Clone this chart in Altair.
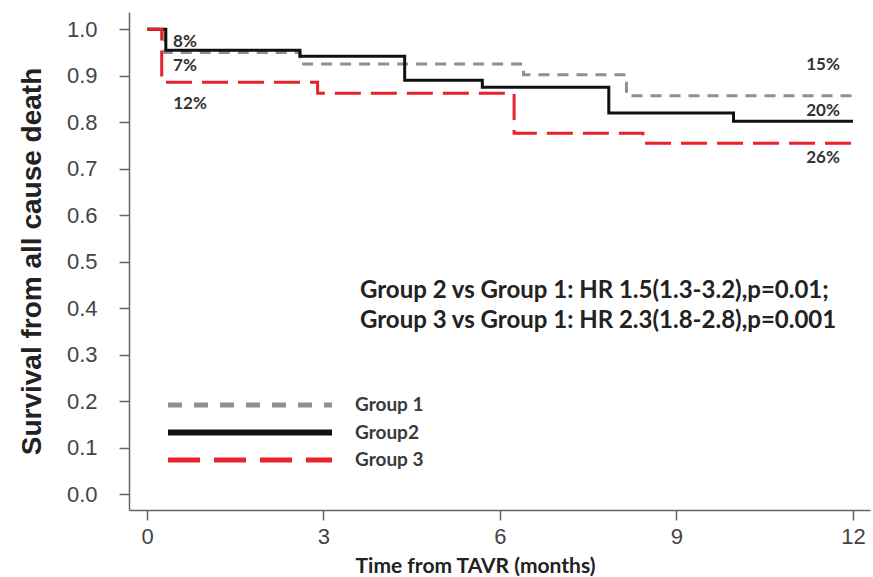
import altair as alt
import pandas as pd

# Kaplan-Meier step values (time in months, survival proportion)
groups = ["Group 1", "Group2", "Group 3"]

g1_time = [0, 0.30, 2.60, 6.40, 8.15, 12]
g1_surv = [1.000, 0.950, 0.925, 0.902, 0.857, 0.857]

g2_time = [0, 0.32, 2.60, 4.38, 5.70, 7.85, 9.97, 12]
g2_surv = [1.000, 0.955, 0.942, 0.890, 0.875, 0.820, 0.802, 0.802]

g3_time = [0, 0.25, 2.90, 6.24, 8.43, 12]
g3_surv = [1.000, 0.886, 0.862, 0.776, 0.755, 0.755]

x_ticks = [0, 3, 6, 9, 12]
y_ticks = [0.0, 0.1, 0.2, 0.3, 0.4, 0.5, 0.6, 0.7, 0.8, 0.9, 1.0]

hr_lines = [
    "Group 2 vs Group 1: HR 1.5(1.3-3.2),p=0.01;",
    "Group 3 vs Group 1: HR 2.3(1.8-2.8),p=0.001",
]

colors = ["#8f8f8f", "#111111", "#e8222b"]
dashes = [[11, 8], [1, 0], [26, 10]]
legend_dashes = [[14, 12], [1, 0], [32, 14]]

rows = []
for name, ts, ss in zip(groups, [g1_time, g2_time, g3_time], [g1_surv, g2_surv, g3_surv]):
    for t, s in zip(ts, ss):
        rows.append({"group": name, "time": t, "surv": s})
km = pd.DataFrame(rows)

W, H = 741, 498
FONT = "Lato"

x_scale = alt.Scale(domain=[-0.306, 12.29], nice=False, zero=False)
y_scale = alt.Scale(domain=[-0.034, 1.037], nice=False, zero=False)

base = alt.Chart(km)

curves = []
for name, col, dash in zip(groups, colors, dashes):
    curves.append(
        base.transform_filter(alt.datum.group == name)
        .mark_line(interpolate="step-after", color=col, strokeDash=dash, strokeWidth=3)
        .encode(
            x=alt.X("time:Q", scale=x_scale,
                    axis=alt.Axis(values=x_ticks, title="Time from TAVR (months)",
                                  format="d")),
            y=alt.Y("surv:Q", scale=y_scale,
                    axis=alt.Axis(values=y_ticks, title="Survival from all cause death",
                                  format=".1f")),
        )
    )


def label(text, x, y, size=17, align="center", color="#333333"):
    return alt.Chart(pd.DataFrame({"t": [text]})).mark_text(
        font=FONT, fontWeight="bold", fontSize=size, align=align,
        baseline="middle", color=color,
    ).encode(text="t:N", x=alt.value(x), y=alt.value(y))


# event-rate labels
pct = [
    label("8%", 56, 30), label("7%", 56, 54), label("12%", 61, 92),
    label("15%", 694, 53), label("20%", 694, 99), label("26%", 694, 146),
]

# hazard ratio annotation
hr = [
    label(hr_lines[0], 231, 279, size=24, align="left", color="#222222"),
    label(hr_lines[1], 231, 309, size=24, align="left", color="#222222"),
]

# hand-placed key
key = []
for i, (name, col, dash) in enumerate(zip(groups, colors, legend_dashes)):
    yy = 393 + 27.5 * i
    key.append(
        alt.Chart(pd.DataFrame({"g": [name]})).mark_rule(
            color=col, strokeDash=dash, strokeWidth=6 if i == 1 else 5
        ).encode(x=alt.value(39), x2=alt.value(203), y=alt.value(yy))
    )
    key.append(label(name, 226, yy, size=19, align="left", color="#3a3a3a"))

chart = alt.layer(*curves, *pct, *hr, *key).properties(
    width=W, height=H,
    padding={"left": 129, "top": 12, "right": 3, "bottom": 67},
    autosize=alt.AutoSizeParams(type="none"),
).configure_view(stroke=None).configure_axis(
    grid=False,
    domainColor="#666666", domainWidth=1.5,
    tickColor="#666666", tickWidth=1.5, tickSize=10,
    labelFont="Liberation Sans", labelFontSize=22, labelColor="#444444",
    titleColor="#222222", titleFontWeight="bold",
).configure_axisX(
    labelPadding=6, titleFont=FONT, titleFontSize=21, titlePadding=8, titleX=346,
).configure_axisY(
    labelPadding=22, titleFont="Liberation Sans", titleFontSize=28, titlePadding=20,
)

chart.save("out.html", embed_options={"renderer": "svg", "actions": False})
